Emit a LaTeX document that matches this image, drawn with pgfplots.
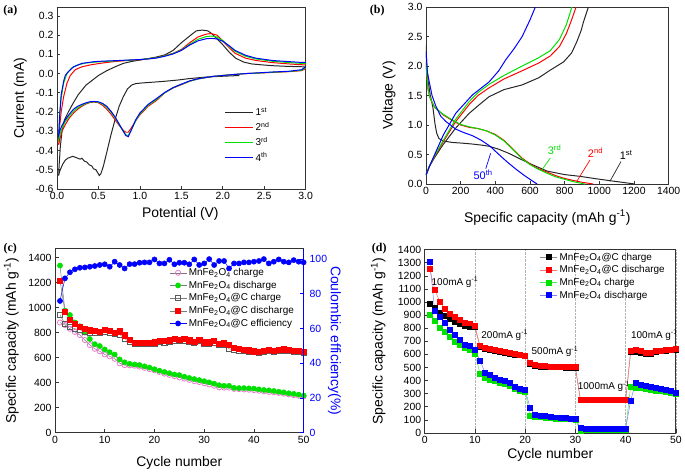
\documentclass[border=0pt]{standalone}
\usepackage{fontspec}
\setmainfont{Liberation Sans}
\newfontfamily\panelfont{Liberation Serif}
\usepackage{pgfplots}
\pgfplotsset{compat=1.18}

\definecolor{cvred}{RGB}{255,0,0}
\definecolor{cvgreen}{RGB}{0,225,0}
\definecolor{cvblue}{RGB}{0,0,255}
\definecolor{pinkc}{RGB}{232,120,205}
\definecolor{grayc}{RGB}{90,90,90}

\pgfplotsset{
  panel/.style={
    scale only axis, anchor=south west,
    tick align=inside,
    major tick length=3.5pt,
    axis line style={line width=0.9pt, black!80},
    every tick/.style={black!80, line width=0.7pt},
    /pgf/number format/assume math mode=true,
    /pgf/number format/1000 sep={},
    tick label style={font=\fontsize{10.5}{12}\selectfont},
    label style={font=\fontsize{14}{16}\selectfont},
  },
  cv/.style={line width=1pt},
}

\begin{document}
\begin{tikzpicture}

% (a) cyclic voltammetry
\begin{axis}[panel, at={(57pt,-188pt)}, width=250pt, height=183pt,
  tick pos=left,
  xmin=0, xmax=3, ymin=-0.6, ymax=0.346,
  xtick={0,0.5,1,1.5,2,2.5,3},
  ytick={-0.6,-0.5,-0.4,-0.3,-0.2,-0.1,0,0.1,0.2,0.3},
  xticklabel style={/pgf/number format/.cd, fixed, fixed zerofill, precision=1},
  yticklabel style={/pgf/number format/.cd, fixed, fixed zerofill, precision=1},
  xlabel={Potential (V)}, ylabel={Current (mA)},
  xlabel style={at={(axis description cs:0.496,-0.137)}, anchor=center},
  ylabel style={at={(axis description cs:-0.148,0.5)}, anchor=center},
  legend style={at={(0.66,0.47)}, anchor=north west, draw=none, fill=none,
    font=\fontsize{10}{11}\selectfont, row sep=1pt},
  legend cell align=left,
  legend image code/.code={\draw[#1, line width=1.5pt] (0pt,0pt) -- (28pt,0pt);},
]
\addplot[cv, black!85] coordinates {
(2.2,-0.010) (2.0,-0.014) (1.8,-0.018) (1.6,-0.026) (1.45,-0.034) (1.3,-0.040)
(1.15,-0.045) (1.05,-0.048) (0.95,-0.052) (0.9,-0.06) (0.85,-0.08) (0.8,-0.12)
(0.75,-0.17) (0.70,-0.24) (0.65,-0.32) (0.6,-0.41) (0.56,-0.48) (0.53,-0.52)
(0.51,-0.53) (0.49,-0.515) (0.47,-0.50) (0.44,-0.495) (0.42,-0.48) (0.39,-0.475)
(0.36,-0.46) (0.33,-0.455) (0.30,-0.44) (0.28,-0.445) (0.25,-0.44) (0.22,-0.435)
(0.19,-0.43) (0.16,-0.435) (0.13,-0.44) (0.10,-0.45) (0.07,-0.47) (0.05,-0.49)
(0.03,-0.51) (0.02,-0.53) (0.025,-0.48) (0.04,-0.38) (0.06,-0.30) (0.09,-0.24)
(0.136,-0.20) (0.2,-0.15) (0.256,-0.11) (0.35,-0.06) (0.5,-0.01) (0.6,0.015)
(0.7,0.035) (0.8,0.053) (0.9,0.063) (1.0,0.07) (1.1,0.078) (1.2,0.086) (1.3,0.097)
(1.4,0.12) (1.5,0.16) (1.6,0.195) (1.68,0.222) (1.75,0.226) (1.82,0.222)
(1.86,0.21) (1.92,0.185) (2.0,0.15) (2.08,0.11) (2.156,0.08) (2.25,0.06)
(2.35,0.05) (2.48,0.045) (2.6,0.041) (2.75,0.038) (2.9,0.036) (3.0,0.035)
};
\addlegendentry{1\textsuperscript{st}}
\addplot[cv, cvred] coordinates {
(3.0,0.025) (2.95,0.015) (2.8,0.01) (2.6,0.006) (2.4,0.002) (2.276,0.0) (2.1,-0.006)
(1.876,-0.015) (1.7,-0.028) (1.6,-0.04) (1.5,-0.058) (1.4,-0.075) (1.3,-0.1)
(1.2,-0.14) (1.1,-0.17) (1.0,-0.215) (0.95,-0.245) (0.9,-0.28) (0.86,-0.305)
(0.83,-0.305) (0.8,-0.295) (0.75,-0.27) (0.7,-0.24) (0.65,-0.21) (0.6,-0.185)
(0.55,-0.165) (0.5,-0.152) (0.45,-0.148) (0.4,-0.15) (0.35,-0.158) (0.3,-0.17)
(0.25,-0.185) (0.2,-0.205) (0.15,-0.23) (0.1,-0.265) (0.06,-0.3) (0.04,-0.33)
(0.02,-0.37) (0.03,-0.28) (0.05,-0.2) (0.08,-0.12) (0.12,-0.05) (0.16,-0.01)
(0.22,0.02) (0.3,0.035) (0.4,0.045) (0.55,0.055) (0.7,0.063) (0.85,0.068)
(1.0,0.072) (1.1,0.077) (1.2,0.082) (1.3,0.093) (1.4,0.105) (1.5,0.125) (1.6,0.16)
(1.7,0.19) (1.8,0.205) (1.86,0.208) (1.93,0.2) (2.0,0.17) (2.076,0.135)
(2.15,0.105) (2.276,0.08) (2.4,0.068) (2.6,0.057) (2.8,0.05) (2.95,0.046) (3.0,0.045)
};
\addlegendentry{2\textsuperscript{nd}}
\addplot[cv, cvgreen] coordinates {
(3.0,0.03) (2.95,0.017) (2.8,0.011) (2.6,0.007) (2.4,0.002) (2.276,0.0) (2.1,-0.006)
(1.876,-0.015) (1.7,-0.028) (1.6,-0.04) (1.5,-0.056) (1.4,-0.074) (1.3,-0.1)
(1.2,-0.135) (1.1,-0.165) (1.0,-0.21) (0.95,-0.245) (0.9,-0.29) (0.86,-0.322)
(0.83,-0.318) (0.8,-0.3) (0.75,-0.265) (0.7,-0.23) (0.65,-0.2) (0.6,-0.175)
(0.55,-0.158) (0.5,-0.149) (0.45,-0.147) (0.4,-0.148) (0.35,-0.155) (0.3,-0.165)
(0.25,-0.178) (0.2,-0.195) (0.15,-0.22) (0.1,-0.25) (0.06,-0.285) (0.04,-0.31)
(0.02,-0.34) (0.03,-0.22) (0.05,-0.13) (0.08,-0.05) (0.12,0.0) (0.18,0.03)
(0.25,0.045) (0.35,0.055) (0.5,0.061) (0.7,0.066) (0.85,0.069) (1.0,0.073)
(1.1,0.077) (1.2,0.082) (1.3,0.092) (1.4,0.104) (1.5,0.122) (1.6,0.152) (1.7,0.178)
(1.8,0.192) (1.86,0.195) (1.93,0.19) (2.0,0.172) (2.076,0.142) (2.15,0.115)
(2.276,0.09) (2.4,0.076) (2.6,0.064) (2.8,0.057) (2.95,0.053) (3.0,0.052)
};
\addlegendentry{3\textsuperscript{rd}}
\addplot[cv, cvblue] coordinates {
(3.0,0.035) (2.95,0.02) (2.8,0.012) (2.6,0.008) (2.4,0.003) (2.276,0.0) (2.1,-0.006)
(1.876,-0.015) (1.7,-0.027) (1.6,-0.038) (1.5,-0.055) (1.4,-0.073) (1.3,-0.098)
(1.2,-0.13) (1.1,-0.16) (1.0,-0.205) (0.95,-0.24) (0.9,-0.29) (0.86,-0.328)
(0.83,-0.322) (0.8,-0.3) (0.75,-0.262) (0.7,-0.225) (0.65,-0.195) (0.6,-0.17)
(0.55,-0.155) (0.5,-0.147) (0.45,-0.145) (0.4,-0.146) (0.35,-0.152) (0.3,-0.16)
(0.25,-0.17) (0.2,-0.185) (0.15,-0.21) (0.1,-0.24) (0.06,-0.27) (0.04,-0.29)
(0.02,-0.32) (0.035,-0.2) (0.05,-0.11) (0.08,-0.04) (0.1,-0.01) (0.136,0.01)
(0.2,0.035) (0.3,0.053) (0.45,0.062) (0.576,0.065) (0.7,0.067) (0.85,0.07)
(1.0,0.073) (1.1,0.076) (1.2,0.081) (1.3,0.09) (1.4,0.102) (1.5,0.12) (1.6,0.148)
(1.7,0.17) (1.8,0.181) (1.86,0.183) (1.93,0.18) (2.0,0.168) (2.076,0.145)
(2.15,0.12) (2.276,0.095) (2.4,0.08) (2.6,0.068) (2.8,0.062) (2.95,0.058) (3.0,0.058)
};
\addlegendentry{4\textsuperscript{th}}
\end{axis}

% (b) charge/discharge profiles
\begin{axis}[panel, at={(428pt,-183pt)}, width=244pt, height=178pt,
  tick pos=left,
  xmin=0, xmax=1400, ymin=0, ymax=3,
  xtick={0,200,...,1400}, ytick={0,0.5,1,1.5,2,2.5,3},
  yticklabel style={/pgf/number format/.cd, fixed, fixed zerofill, precision=1},
  xlabel={Specific capacity (mAh g\textsuperscript{-1})}, ylabel={Voltage (V)},
  xlabel style={at={(axis description cs:0.5,-0.19)}, anchor=center},
  ylabel style={at={(axis description cs:-0.152,0.5)}, anchor=center},
]
\addplot[cv, black!85] coordinates {
(0,2.35) (5,2.0) (12,1.75) (25,1.5) (40,1.3) (52,1.02) (62,0.86) (75,0.77) (100,0.73)
(150,0.705) (200,0.695) (260,0.68) (320,0.66) (364,0.64) (420,0.59) (478,0.52)
(540,0.43) (612,0.33) (698,0.22) (800,0.16) (889,0.13) (980,0.09) (1061,0.057)
(1130,0.03) (1205,0.0)
};
\addplot[cv, black!85] coordinates {
(0,0.15) (20,0.3) (50,0.45) (97,0.66) (172,0.95) (250,1.2) (310,1.35) (364,1.48)
(450,1.6) (555,1.68) (650,1.8) (717,1.93) (794,2.07) (840,2.22) (870,2.41)
(895,2.6) (909,2.75) (937,3.0)
};
\addplot[cv, cvred] coordinates {
(0,2.1) (5,1.85) (12,1.6) (25,1.45) (50,1.3) (100,1.17) (150,1.08) (200,1.0)
(250,0.96) (300,0.94) (350,0.9) (400,0.84) (450,0.74) (500,0.6) (550,0.45)
(600,0.34) (641,0.27) (700,0.2) (750,0.14) (794,0.1) (850,0.06) (900,0.03) (966,0.0)
};
\addplot[cv, cvred] coordinates {
(0,0.15) (20,0.3) (50,0.47) (100,0.72) (172,1.06) (250,1.35) (300,1.5) (364,1.63)
(450,1.78) (555,1.92) (650,2.05) (717,2.17) (770,2.33) (810,2.55) (840,2.78) (866,3.0)
};
\addplot[cv, cvgreen] coordinates {
(0,2.05) (5,1.85) (12,1.6) (25,1.45) (50,1.3) (100,1.18) (150,1.09) (200,1.01)
(250,0.97) (300,0.94) (350,0.9) (400,0.83) (450,0.73) (500,0.59) (550,0.44)
(600,0.33) (641,0.26) (700,0.18) (750,0.12) (800,0.08) (850,0.04) (918,0.0)
};
\addplot[cv, cvgreen] coordinates {
(0,0.15) (20,0.31) (50,0.48) (100,0.74) (172,1.1) (250,1.4) (300,1.55) (364,1.69)
(450,1.84) (555,2.0) (650,2.14) (717,2.26) (770,2.45) (810,2.7) (842,3.0)
};
\addplot[cv, cvblue] coordinates {
(0,2.25) (8,1.9) (19,1.73) (35,1.5) (57,1.32) (85,1.15) (115,1.06) (172,0.93)
(220,0.87) (268,0.82) (320,0.74) (370,0.64) (421,0.5) (470,0.37) (520,0.25)
(570,0.14) (610,0.06) (641,0.0)
};
\addplot[cv, cvblue] coordinates {
(0,0.15) (20,0.3) (50,0.5) (100,0.83) (172,1.2) (268,1.51) (364,1.73) (420,1.92)
(459,2.1) (510,2.3) (555,2.5) (600,2.78) (631,3.0)
};
\draw[black!85, line width=0.7pt] (axis cs:1061,0.045) -- (axis cs:1125,0.38);
\node[font=\fontsize{11}{12}\selectfont, black] at (axis cs:1155,0.49) {1\textsuperscript{st}};
\draw[cvred, line width=0.7pt] (axis cs:870,0.045) -- (axis cs:947,0.41);
\node[font=\fontsize{11}{12}\selectfont, cvred] at (axis cs:978,0.53) {2\textsuperscript{nd}};
\draw[cvgreen, line width=0.7pt] (axis cs:669,0.24) -- (axis cs:717,0.44);
\node[font=\fontsize{11}{12}\selectfont, cvgreen] at (axis cs:742,0.58) {3\textsuperscript{rd}};
\draw[cvblue, line width=0.7pt] (axis cs:373,0.52) -- (axis cs:345,0.26);
\node[font=\fontsize{11}{12}\selectfont, cvblue] at (axis cs:330,0.16) {50\textsuperscript{th}};
\end{axis}

% (c) cycling, left axis
\begin{axis}[panel, at={(55pt,-433pt)}, width=250pt, height=185pt,
  tick pos=left,
  xmin=0, xmax=50, ymin=0, ymax=1470,
  xtick={0,10,...,50}, ytick={0,200,...,1400},
  xlabel={Cycle number}, ylabel={Specific capacity (mAh g\textsuperscript{-1})},
  xlabel style={at={(axis description cs:0.5,-0.162)}, anchor=center},
  ylabel style={at={(axis description cs:-0.176,0.5)}, anchor=center},
  mark size=2.6pt,
  legend style={at={(0.455,0.91)}, anchor=north west, draw=none, fill=none,
    font=\fontsize{10}{10}\selectfont, row sep=0pt, inner sep=1pt},
  legend cell align=left,
]
\addplot[grayc!80, line width=0.5pt, mark=o, mark options={draw=pinkc, fill=white, line width=0.8pt}] coordinates {
(1,880) (2,860) (3,830) (4,805) (5,780) (6,740) (7,700) (8,670) (9,650) (10,625)
(11,610) (12,590) (13,555) (14,540) (15,538) (16,535) (17,528) (18,518) (19,508) (20,498)
(21,485) (22,472) (23,462) (24,452) (25,442) (26,432) (27,422) (28,412) (29,405) (30,395)
(31,385) (32,375) (33,362) (34,360) (35,360) (36,350) (37,348) (38,345) (39,343) (40,340)
(41,335) (42,330) (43,326) (44,322) (45,318) (46,312) (47,306) (48,300) (49,295) (50,290)
};
\addplot[grayc!80, line width=0.5pt, mark=*, mark options={draw=cvgreen, fill=cvgreen}] coordinates {
(1,1335) (2,975) (3,940) (4,880) (5,850) (6,800) (7,748) (8,707) (9,692) (10,665)
(11,643) (12,624) (13,585) (14,562) (15,550) (16,545) (17,540) (18,530) (19,520) (20,507)
(21,495) (22,485) (23,475) (24,465) (25,460) (26,447) (27,437) (28,428) (29,420) (30,411)
(31,402) (32,392) (33,379) (34,374) (35,374) (36,358) (37,356) (38,356) (39,354) (40,352)
(41,346) (42,341) (43,338) (44,333) (45,327) (46,322) (47,315) (48,310) (49,304) (50,297)
};
\addplot[grayc!80, line width=0.5pt, mark=square, mark options={draw=grayc, fill=white, line width=0.8pt}] coordinates {
(1,940) (2,870) (3,845) (4,830) (5,822) (6,808) (7,800) (8,795) (9,795) (10,805)
(11,797) (12,790) (13,785) (14,752) (15,722) (16,708) (17,706) (18,706) (19,706) (20,710)
(21,722) (22,720) (23,726) (24,735) (25,730) (26,735) (27,728) (28,720) (29,730) (30,712)
(31,712) (32,718) (33,698) (34,700) (35,670) (36,660) (37,655) (38,652) (39,648) (40,642)
(41,640) (42,645) (43,650) (44,645) (45,650) (46,655) (47,652) (48,645) (49,642) (50,640)
};
\addplot[grayc!80, line width=0.5pt, mark=square*, mark options={draw=cvred, fill=cvred}] coordinates {
(1,1215) (2,965) (3,905) (4,868) (5,848) (6,833) (7,818) (8,811) (9,805) (10,825)
(11,812) (12,800) (13,810) (14,778) (15,740) (16,720) (17,718) (18,718) (19,718) (20,722)
(21,735) (22,732) (23,738) (24,750) (25,740) (26,748) (27,738) (28,728) (29,744) (30,722)
(31,722) (32,732) (33,708) (34,714) (35,702) (36,676) (37,670) (38,662) (39,658) (40,650)
(41,648) (42,656) (43,662) (44,654) (45,660) (46,666) (47,664) (48,656) (49,652) (50,648)
};
\addlegendimage{cvblue, line width=0.5pt, mark=*, mark options={draw=cvblue, fill=cvblue}}
\legend{MnFe\textsubscript{2}O\textsubscript{4} charge, MnFe\textsubscript{2}O\textsubscript{4} discharge,
  MnFe\textsubscript{2}O\textsubscript{4}@C charge, MnFe\textsubscript{2}O\textsubscript{4}@C discharge,
  MnFe\textsubscript{2}O\textsubscript{4}@C efficiency}
\end{axis}

% (c) cycling, right axis (efficiency)
\begin{axis}[panel, at={(55pt,-433pt)}, width=250pt, height=185pt,
  xmin=0, xmax=50, ymin=0, ymax=106,
  axis x line=none, axis y line*=right,
  ytick={0,20,...,100},
  y axis line style={cvblue, line width=1pt},
  ytick style={cvblue},
  yticklabel style={cvblue, xshift=2.5pt},
  ylabel={Coulombic efficiency(\%)},
  ylabel style={cvblue, rotate=180, at={(axis description cs:1.124,0.5)}, anchor=center},
  mark size=2.6pt,
]
\addplot[cvblue, line width=0.5pt, mark=*, mark options={fill=cvblue}] coordinates {
(1,75.9) (2,88.9) (3,92.4) (4,94.1) (5,95.0) (6,95.2) (7,95.6) (8,96.0) (9,96.6) (10,97.0)
(11,95.6) (12,98.5) (13,96.6) (14,94.6) (15,97.1) (16,97.1) (17,97.9) (18,98.1) (19,98.1) (20,99.8)
(21,97.5) (22,97.5) (23,99.6) (24,97.0) (25,97.9) (26,97.9) (27,97.0) (28,99.8) (29,96.6) (30,97.5)
(31,100) (32,96.6) (33,98.9) (34,98.9) (35,94.6) (36,97.5) (37,97.5) (38,98.1) (39,98.1) (40,98.5)
(41,98.9) (42,100) (43,97.5) (44,98.5) (45,99.8) (46,98.5) (47,98.1) (48,99.4) (49,98.5) (50,98.1)
};
\end{axis}

% (d) rate capability
\begin{axis}[panel, at={(426.7pt,-433.3pt)}, width=252.6pt, height=184.3pt,
  tick pos=left,
  xmin=0, xmax=50, ymin=0, ymax=1400,
  xtick={0,10,...,50}, ytick={0,100,...,1400},
  xmajorgrids, grid style={densely dotted, black!30},
  xlabel={Cycle number}, ylabel={Specific capacity (mAh g\textsuperscript{-1})},
  xlabel style={at={(axis description cs:0.5,-0.118)}, anchor=center},
  ylabel style={at={(axis description cs:-0.185,0.5)}, anchor=center},
  mark size=2.5pt,
  legend style={at={(0.455,1.0)}, anchor=north west, draw=none, fill=none,
    font=\fontsize{10}{10}\selectfont, row sep=0pt, inner sep=1pt},
  legend cell align=left,
]
\addplot[black!45, line width=0.5pt, mark=square*, mark options={draw=black, fill=black}] coordinates {
(1,985) (2,955) (3,920) (4,895) (5,870) (6,850) (7,835) (8,820) (9,810) (10,808)
(11,658) (12,645) (13,635) (14,628) (15,622) (16,615) (17,608) (18,600) (19,595) (20,588)
(21,530) (22,512) (23,505) (24,505) (25,503) (26,502) (27,502) (28,500) (29,500) (30,498)
(31,250) (32,250) (33,250) (34,250) (35,250) (36,250) (37,250) (38,250) (39,250) (40,250)
(41,620) (42,622) (43,610) (44,605) (45,608) (46,618) (47,625) (48,630) (49,632) (50,636)
};
\addplot[cvred!55, line width=0.5pt, mark=square*, mark options={draw=cvred, fill=cvred}] coordinates {
(1,1253) (2,1094) (3,1005) (4,950) (5,911) (6,891) (7,866) (8,841) (9,838) (10,818)
(11,665) (12,651) (13,641) (14,633) (15,628) (16,623) (17,615) (18,608) (19,600) (20,592)
(21,537) (22,520) (23,511) (24,510) (25,509) (26,508) (27,506) (28,505) (29,504) (30,502)
(31,252) (32,252) (33,252) (34,252) (35,252) (36,252) (37,252) (38,252) (39,252) (40,252)
(41,628) (42,633) (43,625) (44,613) (45,613) (46,625) (47,630) (48,633) (49,636) (50,646)
};
\addplot[cvgreen!70, line width=0.5pt, mark=square*, mark options={draw=cvgreen, fill=cvgreen}] coordinates {
(1,904) (2,855) (3,805) (4,770) (5,735) (6,700) (7,670) (8,652) (9,635) (10,606)
(11,455) (12,425) (13,408) (14,398) (15,385) (16,372) (17,360) (18,335) (19,322) (20,318)
(21,128) (22,125) (23,120) (24,118) (25,115) (26,112) (27,110) (28,108) (29,105) (30,100)
(31,18) (32,28) (33,28) (34,28) (35,28) (36,28) (37,28) (38,28) (39,28) (40,28)
(41,355) (42,345) (43,343) (44,338) (45,333) (46,326) (47,320) (48,315) (49,308) (50,300)
};
\addplot[cvblue!50, line width=0.5pt, mark=square*, mark options={draw=cvblue, fill=cvblue}] coordinates {
(1,1311) (2,932) (3,891) (4,841) (5,790) (6,752) (7,714) (8,671) (9,663) (10,638)
(11,555) (12,461) (13,443) (14,423) (15,405) (16,398) (17,385) (18,354) (19,337) (20,329)
(21,190) (22,139) (23,134) (24,130) (25,125) (26,120) (27,118) (28,115) (29,112) (30,109)
(31,38) (32,35) (33,35) (34,35) (35,35) (36,35) (37,35) (38,35) (39,35) (40,35)
(41,248) (42,387) (43,367) (44,362) (45,354) (46,344) (47,339) (48,329) (49,319) (50,309)
};
\legend{MnFe\textsubscript{2}O\textsubscript{4}@C charge, MnFe\textsubscript{2}O\textsubscript{4}@C discharge,
  MnFe\textsubscript{2}O\textsubscript{4} charge, MnFe\textsubscript{2}O\textsubscript{4} discharge}
\node[anchor=west, font=\fontsize{10}{11}\selectfont] at (axis cs:0.7,1150) {100mA g\textsuperscript{-1}};
\node[anchor=west, font=\fontsize{10}{11}\selectfont] at (axis cs:10.6,746) {200mA g\textsuperscript{-1}};
\node[anchor=west, font=\fontsize{10}{11}\selectfont] at (axis cs:20.6,620) {500mA g\textsuperscript{-1}};
\node[anchor=west, font=\fontsize{10}{11}\selectfont] at (axis cs:29.8,354) {1000mA g\textsuperscript{-1}};
\node[anchor=west, font=\fontsize{10}{11}\selectfont] at (axis cs:40.4,746) {100mA g\textsuperscript{-1}};
\end{axis}

% panel letters
\node[font=\panelfont\bfseries\fontsize{12}{12}\selectfont] at (10pt,-9pt) {(a)};
\node[font=\panelfont\bfseries\fontsize{12}{12}\selectfont] at (379pt,-9pt) {(b)};
\node[font=\panelfont\bfseries\fontsize{12}{12}\selectfont] at (10pt,-248pt) {(c)};
\node[font=\panelfont\bfseries\fontsize{12}{12}\selectfont] at (381pt,-248pt) {(d)};

\path[use as bounding box] (0pt,0pt) rectangle (685pt,-472pt);
\end{tikzpicture}
\end{document}
